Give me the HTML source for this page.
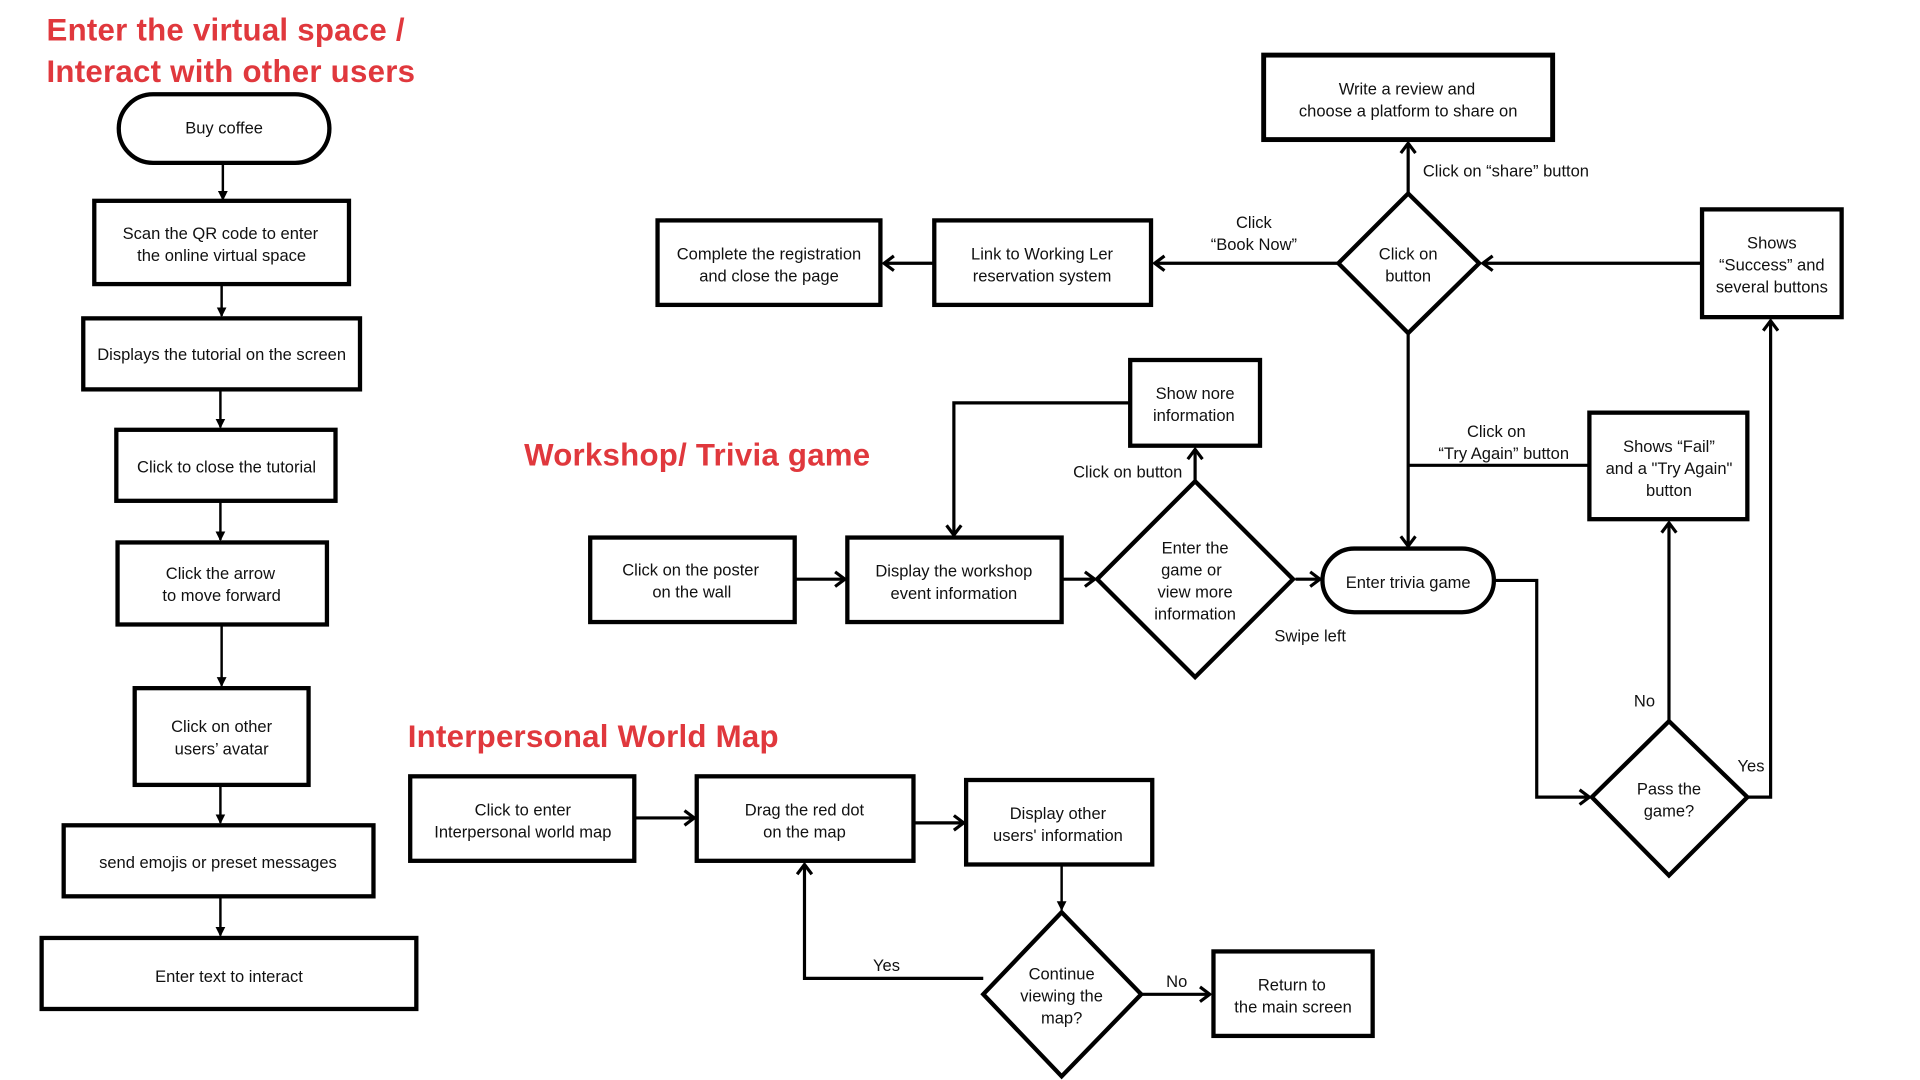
<!DOCTYPE html>
<html><head><meta charset="utf-8"><style>
html,body{margin:0;padding:0;background:#fff;width:1920px;height:1080px;overflow:hidden}
svg{display:block}
text{font-family:"Liberation Sans",sans-serif;font-size:13.5px;fill:#111;text-anchor:middle}
.t{font-size:25.5px;font-weight:bold;fill:#e0383d;text-anchor:start;letter-spacing:0.2px}
.l{text-anchor:start}
.b{fill:#fff;stroke:#000;stroke-width:3.5}
.ln{fill:none;stroke:#000;stroke-width:2.6}
.thin{fill:none;stroke:#000;stroke-width:2}
</style></head><body>
<svg width="1920" height="1080" viewBox="0 0 1568 882" preserveAspectRatio="none" xmlns="http://www.w3.org/2000/svg">
<defs>
<marker id="f" markerWidth="8" markerHeight="8" refX="7" refY="4" orient="auto" markerUnits="userSpaceOnUse"><path d="M0,0 L8,4 L0,8 z" fill="#000"/></marker>
<marker id="o" markerWidth="12" markerHeight="14" refX="10" refY="7" orient="auto" markerUnits="userSpaceOnUse"><path d="M2,1 L10,7 L2,13" fill="none" stroke="#000" stroke-width="2.6"/></marker>
</defs>

<text class="t" x="38" y="33">Enter the virtual space /</text>
<text class="t" x="38" y="67">Interact with other users</text>
<text class="t" x="428" y="380">Workshop/ Trivia game</text>
<text class="t" x="333" y="610">Interpersonal World Map</text>

<!-- left column -->
<rect class="b" x="97" y="77" width="172" height="56" rx="28"/><text x="183" y="109">Buy coffee</text>
<line class="thin" x1="182" y1="133" x2="182" y2="163" marker-end="url(#f)"/>
<rect class="b" x="77" y="164" width="208" height="68"/><text x="180" y="195">Scan the QR code to enter</text><text x="181" y="213">the online virtual space</text>
<line class="thin" x1="181" y1="232" x2="181" y2="258" marker-end="url(#f)"/>
<rect class="b" x="68" y="260" width="226" height="58"/><text x="181" y="294">Displays the tutorial on the screen</text>
<line class="thin" x1="180" y1="318" x2="180" y2="349" marker-end="url(#f)"/>
<rect class="b" x="95" y="351" width="179" height="58"/><text x="185" y="386">Click  to close the tutorial</text>
<line class="thin" x1="180" y1="409" x2="180" y2="441" marker-end="url(#f)"/>
<rect class="b" x="96" y="443" width="171" height="67"/><text x="180" y="473">Click the arrow</text><text x="181" y="491">to move forward</text>
<line class="thin" x1="181" y1="510" x2="181" y2="560" marker-end="url(#f)"/>
<rect class="b" x="110" y="562" width="142" height="79"/><text x="181" y="598">Click on other</text><text x="181" y="616">users’   avatar</text>
<line class="thin" x1="180" y1="641" x2="180" y2="672" marker-end="url(#f)"/>
<rect class="b" x="52" y="674" width="253" height="58"/><text x="178" y="709">send emojis or preset messages</text>
<line class="thin" x1="180" y1="732" x2="180" y2="764" marker-end="url(#f)"/>
<rect class="b" x="34" y="766" width="306" height="58"/><text x="187" y="802">Enter text to interact</text>

<!-- top right -->
<rect class="b" x="1032" y="45" width="236" height="69" style="stroke-width:4"/><text x="1149" y="77">Write a review and</text><text x="1150" y="95">choose a platform to share on</text>
<line class="ln" x1="1150" y1="158" x2="1150" y2="117" marker-end="url(#o)"/>
<text class="l" x="1162" y="144">Click on  “share”  button</text>
<polygon class="b" points="1150,158 1208,215 1150,272 1093,215"/><text x="1150" y="212">Click on</text><text x="1150" y="230">button</text>
<line class="ln" x1="1093" y1="215" x2="943" y2="215" marker-end="url(#o)"/>
<text x="1024" y="186">Click</text><text x="1024" y="204">“Book Now”</text>
<rect class="b" x="763" y="180" width="177" height="69"/><text x="851" y="212">Link to Working Ler</text><text x="851" y="230">reservation system</text>
<line class="ln" x1="763" y1="215" x2="722" y2="215" marker-end="url(#o)"/>
<rect class="b" x="537" y="180" width="182" height="69"/><text x="628" y="212">Complete the registration</text><text x="628" y="230">and close the page</text>
<rect class="b" x="1390" y="171" width="114" height="88"/><text x="1447" y="203">Shows</text><text x="1447" y="221">“Success”  and</text><text x="1447" y="239">several buttons</text>
<line class="ln" x1="1390" y1="215" x2="1211" y2="215" marker-end="url(#o)"/>
<line class="ln" x1="1150" y1="272" x2="1150" y2="446" marker-end="url(#o)"/>
<line class="ln" x1="1298" y1="380" x2="1150" y2="380"/>
<text x="1222" y="357">Click on</text><text x="1228" y="375">“Try Again”  button</text>
<rect class="b" x="1298" y="337" width="129" height="87"/><text x="1363" y="369">Shows  “Fail”</text><text x="1363" y="387">and a "Try Again"</text><text x="1363" y="405">button</text>
<rect class="b" x="1080" y="448" width="140" height="52" rx="26"/><text x="1150" y="480">Enter trivia game</text>
<polyline class="ln" points="1220,474 1255,474 1255,651 1298,651" marker-end="url(#o)"/>
<polygon class="b" points="1363,589 1427,651 1363,715 1300,651"/><text x="1363" y="649">Pass the</text><text x="1363" y="667">game?</text>
<line class="ln" x1="1363" y1="589" x2="1363" y2="427" marker-end="url(#o)"/>
<text x="1343" y="577">No</text>
<polyline class="ln" points="1427,651 1446,651 1446,262" marker-end="url(#o)"/>
<text x="1430" y="630">Yes</text>

<!-- workshop -->
<rect class="b" x="482" y="439" width="167" height="69"/><text x="564" y="470">Click on the poster</text><text x="565" y="488">on the wall</text>
<line class="ln" x1="649" y1="473" x2="690" y2="473" marker-end="url(#o)"/>
<rect class="b" x="692" y="439" width="175" height="69"/><text x="779" y="471">Display the workshop</text><text x="779" y="489">event information</text>
<line class="ln" x1="867" y1="473" x2="894" y2="473" marker-end="url(#o)"/>
<polygon class="b" points="976,393 1056,473 976,553 896,473"/><text x="976" y="452">Enter the</text><text x="973" y="470">game or</text><text x="976" y="488">view more</text><text x="976" y="506">information</text>
<line class="ln" x1="1058" y1="473" x2="1078" y2="473" marker-end="url(#o)"/>
<text x="1070" y="524">Swipe left</text>
<line class="ln" x1="976" y1="393" x2="976" y2="367" marker-end="url(#o)"/>
<text x="921" y="390">Click on button</text>
<rect class="b" x="923" y="294" width="106" height="70"/><text x="976" y="326">Show nore</text><text x="975" y="344">information</text>
<polyline class="ln" points="923,329 779,329 779,437" marker-end="url(#o)"/>

<!-- interpersonal -->
<rect class="b" x="335" y="634" width="183" height="69"/><text x="427" y="666">Click to enter</text><text x="427" y="684">Interpersonal world map</text>
<line class="ln" x1="518" y1="668" x2="567" y2="668" marker-end="url(#o)"/>
<rect class="b" x="569" y="634" width="177" height="69"/><text x="657" y="666">Drag the red dot</text><text x="657" y="684">on the map</text>
<line class="ln" x1="746" y1="672" x2="787" y2="672" marker-end="url(#o)"/>
<rect class="b" x="789" y="637" width="152" height="69"/><text x="864" y="669">Display other</text><text x="864" y="687">users' information</text>
<line class="thin" x1="867" y1="706" x2="867" y2="743" marker-end="url(#f)"/>
<polygon class="b" points="867,745 932,812 867,879 803,812"/><text x="867" y="800">Continue</text><text x="867" y="818">viewing the</text><text x="867" y="836">map?</text>
<line class="ln" x1="932" y1="812" x2="988" y2="812" marker-end="url(#o)"/>
<text x="961" y="806">No</text>
<rect class="b" x="991" y="777" width="130" height="69"/><text x="1055" y="809">Return to</text><text x="1056" y="827">the main screen</text>
<polyline class="ln" points="803,799 657,799 657,706" marker-end="url(#o)"/>
<text x="724" y="793">Yes</text>
</svg>
</body></html>
